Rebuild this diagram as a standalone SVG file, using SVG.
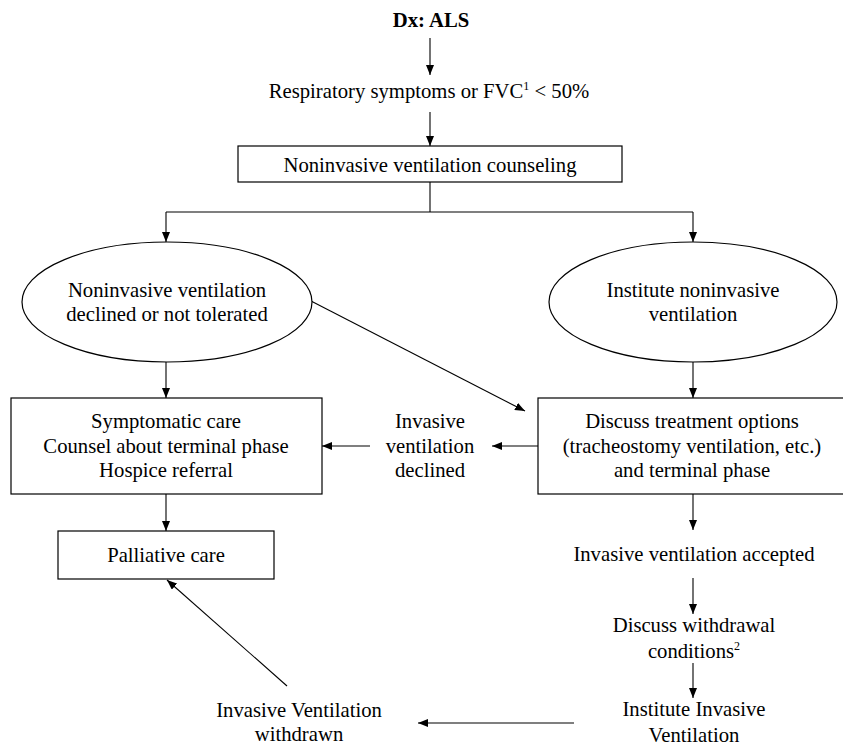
<svg xmlns="http://www.w3.org/2000/svg" width="843" height="745" viewBox="0 0 843 745">
<defs>
<style>
text{font-family:"Liberation Serif","Times New Roman",serif;font-size:20.7px;fill:#000;text-anchor:middle}
.b{font-weight:bold}
.sup{font-size:12px}
.shape{fill:#fff;stroke:#000;stroke-width:1.2}
.conn line,.conn polyline{stroke:#000;stroke-width:1.1;fill:none}
.arr{marker-end:url(#ah)}
</style>
<marker id="ah" markerUnits="userSpaceOnUse" markerWidth="10" markerHeight="8" refX="10" refY="4" orient="auto">
<path d="M0,0 L10,4 L0,8 z" fill="#000"/>
</marker>
</defs>
<rect width="843" height="745" fill="#fff"/>
<g class="conn">
<line class="arr" x1="430" y1="38" x2="430" y2="75"/>
<line class="arr" x1="430" y1="112" x2="430" y2="146"/>
<line x1="430" y1="182" x2="430" y2="212"/>
<line x1="166" y1="212" x2="693" y2="212"/>
<line class="arr" x1="166" y1="212" x2="166" y2="242"/>
<line class="arr" x1="693" y1="212" x2="693" y2="242"/>
<line class="arr" x1="166" y1="362" x2="166" y2="398"/>
<line class="arr" x1="693" y1="362" x2="693" y2="398"/>
<line class="arr" x1="311" y1="301" x2="525" y2="411"/>
<line class="arr" x1="538" y1="446" x2="492" y2="446"/>
<line class="arr" x1="370" y1="446" x2="322" y2="446"/>
<line class="arr" x1="166" y1="494" x2="166" y2="531"/>
<line class="arr" x1="693" y1="494" x2="693" y2="530"/>
<line class="arr" x1="693" y1="578" x2="693" y2="614"/>
<line class="arr" x1="693" y1="663" x2="693" y2="698"/>
<line class="arr" x1="574" y1="723" x2="418" y2="723"/>
<line class="arr" x1="287" y1="686" x2="167" y2="580"/>
</g>
<g id="dx"><text class="b" x="431" y="27">Dx: ALS</text></g>
<g id="resp"><text x="429" y="98">Respiratory symptoms or FVC<tspan class="sup" dy="-8">1</tspan><tspan dy="8"> &lt; 50%</tspan></text></g>
<g id="nivc"><rect class="shape" x="238" y="146" width="384" height="36"/><text x="430" y="172">Noninvasive ventilation counseling</text></g>
<g id="declined"><ellipse class="shape" cx="167" cy="302" rx="145" ry="60"/><text x="167" y="297">Noninvasive ventilation</text><text x="167" y="321">declined or not tolerated</text></g>
<g id="institute-niv"><ellipse class="shape" cx="693" cy="302" rx="144" ry="60"/><text x="693" y="297">Institute noninvasive</text><text x="693" y="321">ventilation</text></g>
<g id="symptomatic"><rect class="shape" x="11" y="398" width="311" height="96"/><text x="166" y="428">Symptomatic care</text><text x="166" y="452.5">Counsel about terminal phase</text><text x="166" y="477">Hospice referral</text></g>
<g id="inv-declined"><text x="430" y="428">Invasive</text><text x="430" y="452.5">ventilation</text><text x="430" y="477">declined</text></g>
<g id="discuss"><rect class="shape" x="538" y="398" width="310" height="96"/><text x="692" y="428">Discuss treatment options</text><text x="692" y="452.5">(tracheostomy ventilation, etc.)</text><text x="692" y="477">and terminal phase</text></g>
<g id="palliative"><rect class="shape" x="58" y="531" width="216" height="48"/><text x="166" y="562">Palliative care</text></g>
<g id="accepted"><text x="694" y="561">Invasive ventilation accepted</text></g>
<g id="withdrawal"><text x="694" y="632">Discuss withdrawal</text><text x="694" y="658">conditions<tspan class="sup" dy="-8">2</tspan></text></g>
<g id="institute-iv"><text x="694" y="716">Institute Invasive</text><text x="694" y="742">Ventilation</text></g>
<g id="withdrawn"><text x="299" y="717">Invasive Ventilation</text><text x="299" y="741">withdrawn</text></g>
</svg>
